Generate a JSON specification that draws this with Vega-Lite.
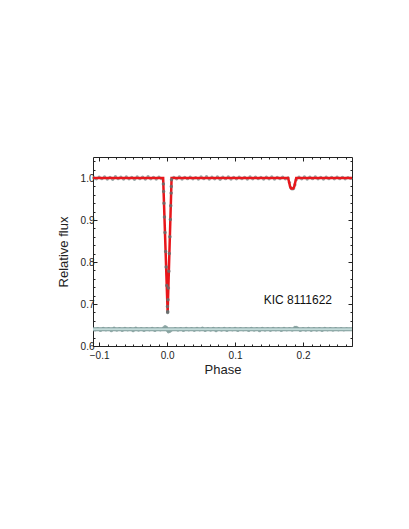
{
  "$schema": "https://vega.github.io/schema/vega-lite/v6.json",
  "autosize": "none",
  "width": 259,
  "height": 189,
  "padding": {"left": 93, "top": 157, "right": 57, "bottom": 183},
  "background": "white",
  "config": {
    "view": {"stroke": "#222", "strokeWidth": 1},
    "font": "Liberation Sans",
    "axis": {"grid": false, "domain": false, "tickColor": "#222", "labelColor": "#222", "titleColor": "#222", "labelFont": "Liberation Sans", "titleFont": "Liberation Sans", "labelFontSize": 10, "titleFontSize": 13, "titleFontWeight": "normal"}
  },
  "datasets": {
    "model": [
      {"p": -0.109, "f": 1.0}, {"p": -0.0058, "f": 1.0}, {"p": -0.005, "f": 0.961}, {"p": -0.003, "f": 0.864},
      {"p": -0.001, "f": 0.767}, {"p": 0.0003, "f": 0.704}, {"p": 0.0008, "f": 0.68}, {"p": 0.0013, "f": 0.708},
      {"p": 0.0028, "f": 0.79}, {"p": 0.0045, "f": 0.884}, {"p": 0.0058, "f": 0.956}, {"p": 0.0066, "f": 1.0},
      {"p": 0.178, "f": 1.0}, {"p": 0.1795, "f": 0.99}, {"p": 0.181, "f": 0.979}, {"p": 0.1825, "f": 0.975},
      {"p": 0.1855, "f": 0.975}, {"p": 0.187, "f": 0.979}, {"p": 0.1885, "f": 0.99}, {"p": 0.19, "f": 1.0},
      {"p": 0.272, "f": 1.0}
    ],
    "residline": [{"p": -0.109, "f": 0.64}, {"p": 0.272, "f": 0.64}],
    "obsEcl": [
      {"p": -0.0055, "f": 0.986}, {"p": -0.0051, "f": 0.968}, {"p": -0.0046, "f": 0.94}, {"p": -0.0039, "f": 0.907},
      {"p": -0.0031, "f": 0.87}, {"p": -0.0022, "f": 0.825}, {"p": -0.0014, "f": 0.788}, {"p": -0.0005, "f": 0.744},
      {"p": 0.0005, "f": 0.694}, {"p": 0.0008, "f": 0.68}, {"p": 0.0065, "f": 0.996}, {"p": 0.0062, "f": 0.98},
      {"p": 0.006, "f": 0.964}, {"p": 0.0054, "f": 0.934}, {"p": 0.0048, "f": 0.901}, {"p": 0.0041, "f": 0.86},
      {"p": 0.0033, "f": 0.82}, {"p": 0.0026, "f": 0.778}, {"p": 0.0019, "f": 0.738}, {"p": 0.0013, "f": 0.71},
      {"p": 0.0009, "f": 0.682}
    ],
    "obsBase": [
      {"p": -0.108, "f": 1.0005}, {"p": -0.104, "f": 0.998}, {"p": -0.1, "f": 1.002}, {"p": -0.096, "f": 0.9985},
      {"p": -0.092, "f": 1.0025}, {"p": -0.088, "f": 0.9975}, {"p": -0.084, "f": 1.0015}, {"p": -0.08, "f": 0.997},
      {"p": -0.076, "f": 1.003}, {"p": -0.072, "f": 0.9985}, {"p": -0.068, "f": 1.002}, {"p": -0.064, "f": 0.9975},
      {"p": -0.06, "f": 1.0025}, {"p": -0.056, "f": 0.998}, {"p": -0.052, "f": 1.0015}, {"p": -0.048, "f": 0.997},
      {"p": -0.044, "f": 1.0025}, {"p": -0.04, "f": 0.9985}, {"p": -0.036, "f": 1.002}, {"p": -0.032, "f": 0.9975},
      {"p": -0.028, "f": 1.003}, {"p": -0.024, "f": 0.998}, {"p": -0.02, "f": 1.0015}, {"p": -0.016, "f": 0.9975},
      {"p": -0.012, "f": 1.002}, {"p": -0.008, "f": 0.9985},
      {"p": 0.01, "f": 1.0015}, {"p": 0.014, "f": 0.998}, {"p": 0.018, "f": 1.0025}, {"p": 0.022, "f": 0.9975},
      {"p": 0.026, "f": 1.0015}, {"p": 0.03, "f": 0.9985}, {"p": 0.034, "f": 1.002}, {"p": 0.038, "f": 0.998},
      {"p": 0.042, "f": 1.001}, {"p": 0.046, "f": 0.9975}, {"p": 0.05, "f": 1.0025}, {"p": 0.054, "f": 0.9985},
      {"p": 0.058, "f": 1.003}, {"p": 0.062, "f": 0.9975}, {"p": 0.066, "f": 1.002}, {"p": 0.07, "f": 0.998},
      {"p": 0.074, "f": 1.0025}, {"p": 0.078, "f": 0.997}, {"p": 0.082, "f": 1.002}, {"p": 0.086, "f": 0.9985},
      {"p": 0.09, "f": 1.0025}, {"p": 0.094, "f": 0.9975}, {"p": 0.098, "f": 1.0015}, {"p": 0.102, "f": 0.998},
      {"p": 0.106, "f": 1.002}, {"p": 0.11, "f": 0.9985}, {"p": 0.114, "f": 1.0015}, {"p": 0.118, "f": 0.9975},
      {"p": 0.122, "f": 1.0025}, {"p": 0.126, "f": 0.998}, {"p": 0.13, "f": 1.002}, {"p": 0.134, "f": 0.9985},
      {"p": 0.138, "f": 1.0015}, {"p": 0.142, "f": 0.9975}, {"p": 0.146, "f": 1.002}, {"p": 0.15, "f": 0.998},
      {"p": 0.154, "f": 1.0025}, {"p": 0.158, "f": 0.9975}, {"p": 0.162, "f": 1.0015}, {"p": 0.166, "f": 0.9985},
      {"p": 0.17, "f": 1.002}, {"p": 0.174, "f": 0.998},
      {"p": 0.178, "f": 1.0}, {"p": 0.18, "f": 0.989}, {"p": 0.182, "f": 0.977}, {"p": 0.184, "f": 0.974},
      {"p": 0.186, "f": 0.975}, {"p": 0.188, "f": 0.984}, {"p": 0.19, "f": 0.996},
      {"p": 0.194, "f": 1.002}, {"p": 0.198, "f": 0.998}, {"p": 0.202, "f": 1.0025}, {"p": 0.206, "f": 0.9975},
      {"p": 0.21, "f": 1.002}, {"p": 0.214, "f": 0.9985}, {"p": 0.218, "f": 1.0025}, {"p": 0.222, "f": 0.998},
      {"p": 0.226, "f": 1.0015}, {"p": 0.23, "f": 0.9975}, {"p": 0.234, "f": 1.002}, {"p": 0.238, "f": 0.9985},
      {"p": 0.242, "f": 1.0015}, {"p": 0.246, "f": 0.998}, {"p": 0.25, "f": 1.002}, {"p": 0.254, "f": 0.9985},
      {"p": 0.258, "f": 1.0015}, {"p": 0.262, "f": 0.998}, {"p": 0.266, "f": 1.001}, {"p": 0.27, "f": 0.999}
    ],
    "resid": [
      {"p": -0.106, "f": 0.6385}, {"p": -0.102, "f": 0.6415}, {"p": -0.098, "f": 0.637}, {"p": -0.094, "f": 0.642},
      {"p": -0.09, "f": 0.6385}, {"p": -0.086, "f": 0.641}, {"p": -0.082, "f": 0.6365}, {"p": -0.078, "f": 0.6425},
      {"p": -0.074, "f": 0.638}, {"p": -0.07, "f": 0.6415}, {"p": -0.066, "f": 0.637}, {"p": -0.062, "f": 0.642},
      {"p": -0.058, "f": 0.6385}, {"p": -0.054, "f": 0.641}, {"p": -0.05, "f": 0.6365}, {"p": -0.046, "f": 0.6425},
      {"p": -0.042, "f": 0.638}, {"p": -0.038, "f": 0.641}, {"p": -0.034, "f": 0.637}, {"p": -0.03, "f": 0.6415},
      {"p": -0.026, "f": 0.6385}, {"p": -0.022, "f": 0.642}, {"p": -0.018, "f": 0.637}, {"p": -0.014, "f": 0.641},
      {"p": -0.01, "f": 0.6385}, {"p": -0.005, "f": 0.643}, {"p": -0.003, "f": 0.646}, {"p": -0.001, "f": 0.644},
      {"p": 0.001, "f": 0.6365}, {"p": 0.002, "f": 0.634}, {"p": 0.004, "f": 0.635}, {"p": 0.006, "f": 0.638},
      {"p": 0.012, "f": 0.6415}, {"p": 0.016, "f": 0.638}, {"p": 0.02, "f": 0.6415}, {"p": 0.024, "f": 0.637},
      {"p": 0.028, "f": 0.642}, {"p": 0.032, "f": 0.6385}, {"p": 0.036, "f": 0.641}, {"p": 0.04, "f": 0.6375},
      {"p": 0.044, "f": 0.642}, {"p": 0.048, "f": 0.6385}, {"p": 0.052, "f": 0.6425}, {"p": 0.056, "f": 0.637},
      {"p": 0.06, "f": 0.6415}, {"p": 0.064, "f": 0.638}, {"p": 0.068, "f": 0.642}, {"p": 0.072, "f": 0.6365},
      {"p": 0.076, "f": 0.6415}, {"p": 0.08, "f": 0.638}, {"p": 0.084, "f": 0.642}, {"p": 0.088, "f": 0.637},
      {"p": 0.092, "f": 0.6415}, {"p": 0.096, "f": 0.6385}, {"p": 0.1, "f": 0.642}, {"p": 0.104, "f": 0.637},
      {"p": 0.108, "f": 0.641}, {"p": 0.112, "f": 0.6385}, {"p": 0.116, "f": 0.6415}, {"p": 0.12, "f": 0.637},
      {"p": 0.124, "f": 0.642}, {"p": 0.128, "f": 0.638}, {"p": 0.132, "f": 0.6415}, {"p": 0.136, "f": 0.6365},
      {"p": 0.14, "f": 0.642}, {"p": 0.144, "f": 0.638}, {"p": 0.148, "f": 0.641}, {"p": 0.152, "f": 0.6375},
      {"p": 0.156, "f": 0.642}, {"p": 0.16, "f": 0.6385}, {"p": 0.164, "f": 0.6415}, {"p": 0.168, "f": 0.637},
      {"p": 0.172, "f": 0.642}, {"p": 0.176, "f": 0.6385}, {"p": 0.18, "f": 0.6415}, {"p": 0.184, "f": 0.638},
      {"p": 0.188, "f": 0.644}, {"p": 0.19, "f": 0.6445}, {"p": 0.192, "f": 0.6425}, {"p": 0.196, "f": 0.637},
      {"p": 0.2, "f": 0.6415}, {"p": 0.204, "f": 0.638}, {"p": 0.208, "f": 0.642}, {"p": 0.212, "f": 0.6375},
      {"p": 0.216, "f": 0.6415}, {"p": 0.22, "f": 0.638}, {"p": 0.224, "f": 0.6415}, {"p": 0.228, "f": 0.637},
      {"p": 0.232, "f": 0.642}, {"p": 0.236, "f": 0.6385}, {"p": 0.24, "f": 0.641}, {"p": 0.244, "f": 0.638},
      {"p": 0.248, "f": 0.6415}, {"p": 0.252, "f": 0.6385}, {"p": 0.256, "f": 0.641}, {"p": 0.26, "f": 0.6385},
      {"p": 0.264, "f": 0.6405}, {"p": 0.268, "f": 0.6395}
    ],
    "label": [{"p": 0.1924, "f": 0.71, "t": "KIC 8111622"}]
  },
  "layer": [
    {
      "data": {"name": "resid"},
      "mark": {"type": "circle", "size": 11, "color": "#8aa3a1", "opacity": 0.9},
      "encoding": {
        "x": {"field": "p", "type": "quantitative", "scale": {"domain": [-0.109, 0.272], "nice": false, "zero": false},
          "axis": {"orient": "bottom", "values": [-0.1, 0, 0.1, 0.2], "format": ".1f", "tickSize": -4, "labelPadding": 8, "title": "Phase", "titlePadding": 3}},
        "y": {"field": "f", "type": "quantitative", "scale": {"domain": [0.6, 1.05], "nice": false, "zero": false},
          "axis": {"orient": "left", "values": [0.6, 0.7, 0.8, 0.9, 1.0], "format": ".1f", "tickSize": -4, "labelPadding": 3, "title": "Relative flux", "titlePadding": 10}}
      }
    },
    {
      "data": {"name": "residline"},
      "mark": {"type": "line", "strokeWidth": 4, "color": "#7f9d9b"},
      "encoding": {
        "x": {"field": "p", "type": "quantitative",
          "axis": {"orient": "top", "values": [-0.1, 0, 0.1, 0.2], "tickSize": -4, "labels": false, "title": null}},
        "y": {"field": "f", "type": "quantitative",
          "axis": {"orient": "right", "values": [0.6, 0.7, 0.8, 0.9, 1.0], "tickSize": -4, "labels": false, "title": null}}
      }
    },
    {
      "data": {"name": "residline"},
      "mark": {"type": "line", "strokeWidth": 2, "color": "#c2dad8"},
      "encoding": {
        "x": {"field": "p", "type": "quantitative",
          "axis": {"orient": "bottom", "values": [-0.0875, -0.075, -0.0625, -0.05, -0.0375, -0.025, -0.0125, 0.0125, 0.025, 0.0375, 0.05, 0.0625, 0.075, 0.0875, 0.1125, 0.125, 0.1375, 0.15, 0.1625, 0.175, 0.1875, 0.2125, 0.225, 0.2375, 0.25, 0.2625], "tickSize": -2, "labels": false, "title": null}},
        "y": {"field": "f", "type": "quantitative",
          "axis": {"orient": "left", "values": [0.62, 0.64, 0.66, 0.68, 0.72, 0.74, 0.76, 0.78, 0.82, 0.84, 0.86, 0.88, 0.92, 0.94, 0.96, 0.98, 1.02, 1.04], "tickSize": -2, "labels": false, "title": null}}
      }
    },
    {
      "data": {"name": "obsBase"},
      "mark": {"type": "circle", "size": 11, "color": "#8a9c9b", "opacity": 0.9},
      "encoding": {
        "x": {"field": "p", "type": "quantitative",
          "axis": {"orient": "top", "values": [-0.0875, -0.075, -0.0625, -0.05, -0.0375, -0.025, -0.0125, 0.0125, 0.025, 0.0375, 0.05, 0.0625, 0.075, 0.0875, 0.1125, 0.125, 0.1375, 0.15, 0.1625, 0.175, 0.1875, 0.2125, 0.225, 0.2375, 0.25, 0.2625], "tickSize": -2, "labels": false, "title": null}},
        "y": {"field": "f", "type": "quantitative",
          "axis": {"orient": "right", "values": [0.62, 0.64, 0.66, 0.68, 0.72, 0.74, 0.76, 0.78, 0.82, 0.84, 0.86, 0.88, 0.92, 0.94, 0.96, 0.98, 1.02, 1.04], "tickSize": -2, "labels": false, "title": null}}
      }
    },
    {
      "data": {"name": "model"},
      "mark": {"type": "line", "strokeWidth": 2.5, "color": "#e8161b"},
      "encoding": {
        "x": {"field": "p", "type": "quantitative", "axis": null},
        "y": {"field": "f", "type": "quantitative", "axis": null}
      }
    },
    {
      "data": {"name": "obsEcl"},
      "mark": {"type": "circle", "size": 12, "color": "#666e6e", "opacity": 0.85},
      "encoding": {
        "x": {"field": "p", "type": "quantitative", "axis": null},
        "y": {"field": "f", "type": "quantitative", "axis": null}
      }
    },
    {
      "data": {"name": "label"},
      "mark": {"type": "text", "fontSize": 12, "font": "Liberation Sans", "color": "#111", "align": "center", "baseline": "middle"},
      "encoding": {
        "x": {"field": "p", "type": "quantitative", "axis": null},
        "y": {"field": "f", "type": "quantitative", "axis": null},
        "text": {"field": "t"}
      }
    }
  ],
  "resolve": {"axis": {"x": "independent", "y": "independent"}}
}
